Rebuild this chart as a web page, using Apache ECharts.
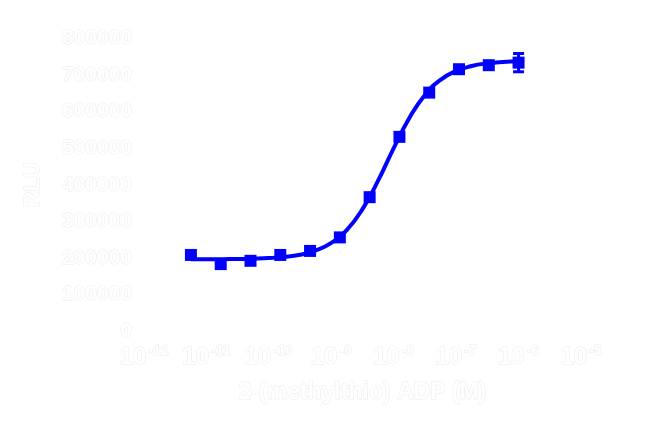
<!DOCTYPE html>
<html>
<head>
<meta charset="utf-8">
<script src="https://cdn.jsdelivr.net/npm/echarts@6/dist/echarts.min.js"></script>
<style>
html,body{margin:0;padding:0;background:#fff;}
#chart{width:650px;height:426px;}
</style>
</head>
<body>
<div id="chart"></div>
<script>
// Concentrations (M), 3-fold dilutions from 1 µM
const concM = [5.645e-12, 1.694e-11, 5.081e-11, 1.524e-10, 4.572e-10, 1.372e-9, 4.115e-9, 1.235e-8, 3.704e-8, 1.111e-7, 3.333e-7, 1.0e-6];
const response = [208000, 183000, 192000, 208000, 219000, 256000, 366000, 531000, 652000, 716000, 727000, 734000];
const errBar = [0, 0, 0, 0, 0, 0, 0, 0, 0, 0, 0, 25000];
// Fitted curve
const fitConc = [5.645e-12, 1e-11, 1.78e-11, 3.16e-11, 5.62e-11, 1e-10, 1.78e-10, 3.16e-10, 5.62e-10, 1e-9, 1.78e-9, 3.16e-9, 5.62e-9, 1e-8, 1.78e-8, 3.16e-8, 5.62e-8, 1e-7, 1.78e-7, 3.16e-7, 5.62e-7, 1e-6];
const fitResp = [196000, 196200, 196500, 196900, 197800, 199400, 202600, 208700, 220100, 240900, 276700, 333300, 411200, 500300, 582800, 645700, 686900, 711200, 724800, 732000, 735900, 737900];
const yTicks = [0, 100000, 200000, 300000, 400000, 500000, 600000, 700000, 800000];
const xTitle = '2-(methylthio) ADP (M)';
const yTitle = 'RLU';

const txt = {color: '#ffffff', textBorderColor: '#ebebeb', textBorderWidth: 1, fontFamily: 'Liberation Sans, Arial, sans-serif', fontWeight: 'bold'};

const chart = echarts.init(document.getElementById('chart'), null, {renderer: 'canvas'});
chart.setOption({
  backgroundColor: '#ffffff',
  animation: false,
  grid: {left: 144, right: 69, top: 38.5, bottom: 95, containLabel: false},
  xAxis: {
    type: 'log', logBase: 10, min: 1e-12, max: 1e-5, splitNumber: 7,
    axisLine: {show: false}, axisTick: {show: false}, splitLine: {show: false},
    axisLabel: {
      margin: 13,
      formatter: v => '{b|10}{s|' + Math.round(Math.log10(v)) + '}',
      rich: {
        b: Object.assign({}, txt, {fontSize: 24, lineHeight: 26}),
        s: Object.assign({}, txt, {fontSize: 14, lineHeight: 14, verticalAlign: 'top', padding: [0, 0, 0, 2]})
      }
    },
    name: xTitle, nameLocation: 'middle', nameGap: 50,
    nameTextStyle: Object.assign({}, txt, {fontSize: 23})
  },
  yAxis: {
    type: 'value', min: yTicks[0], max: yTicks[yTicks.length - 1], interval: yTicks[1] - yTicks[0],
    axisLine: {show: false}, axisTick: {show: false}, splitLine: {show: false},
    axisLabel: Object.assign({}, txt, {fontSize: 21, margin: 12, formatter: v => String(v)}),
    name: yTitle, nameLocation: 'middle', nameGap: 100, nameRotate: 90,
    nameTextStyle: Object.assign({}, txt, {fontSize: 22})
  },
  series: [
    {
      type: 'line', data: fitConc.map((c, i) => [c, fitResp[i]]),
      smooth: true, showSymbol: false, symbol: 'none',
      lineStyle: {color: '#0000ff', width: 4}, z: 2
    },
    {
      type: 'scatter', data: concM.map((c, i) => [c, response[i]]),
      symbol: 'rect', symbolSize: 12,
      itemStyle: {color: '#0000ff', opacity: 1}, z: 3
    },
    {
      type: 'custom', z: 4,
      data: concM.map((c, i) => [c, response[i], errBar[i]]),
      renderItem: function (params, api) {
        const x = api.value(0), y = api.value(1), e = api.value(2);
        if (!e) return null;
        const top = api.coord([x, y + e]);
        const bot = api.coord([x, y - e]);
        const w = 5.5;
        const st = {stroke: '#0000ff', lineWidth: 3};
        return {
          type: 'group',
          children: [
            {type: 'line', shape: {x1: top[0], y1: top[1], x2: bot[0], y2: bot[1]}, style: st},
            {type: 'line', shape: {x1: top[0] - w, y1: top[1], x2: top[0] + w, y2: top[1]}, style: st},
            {type: 'line', shape: {x1: bot[0] - w, y1: bot[1], x2: bot[0] + w, y2: bot[1]}, style: st}
          ]
        };
      }
    }
  ]
});
</script>
</body>
</html>
